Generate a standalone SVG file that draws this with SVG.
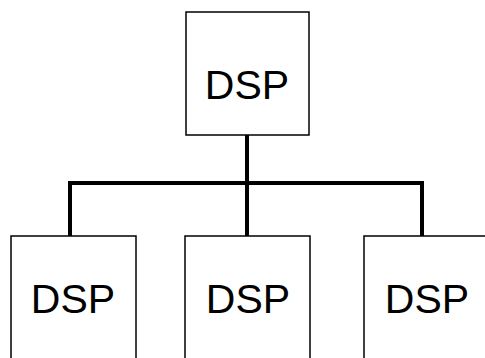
<svg xmlns="http://www.w3.org/2000/svg" width="485" height="358" viewBox="0 0 485 358">
<style>
.box{fill:#fff;stroke:#000;stroke-width:1.5}
.lbl{font-family:"Liberation Sans",Arial,sans-serif;font-size:41px;fill:#000;text-anchor:middle}
.conn{fill:none;stroke:#000;stroke-width:4}
</style>
<rect width="485" height="358" fill="#fff"/>
<g id="connectors">
<path class="conn" d="M247,135 V183"/>
<path class="conn" d="M70,236 V183 H422 V236"/>
<path class="conn" d="M247,183 V236"/>
</g>
<g id="dsp-top">
<rect class="box" x="186" y="12" width="123" height="123"/>
<text class="lbl" x="247" y="99">DSP</text>
</g>
<g id="dsp-left">
<rect class="box" x="11" y="236" width="125" height="130"/>
<text class="lbl" x="73" y="313">DSP</text>
</g>
<g id="dsp-middle">
<rect class="box" x="185" y="236" width="125" height="130"/>
<text class="lbl" x="248" y="313">DSP</text>
</g>
<g id="dsp-right">
<rect class="box" x="364" y="236" width="125" height="130"/>
<text class="lbl" x="427" y="313">DSP</text>
</g>
</svg>
